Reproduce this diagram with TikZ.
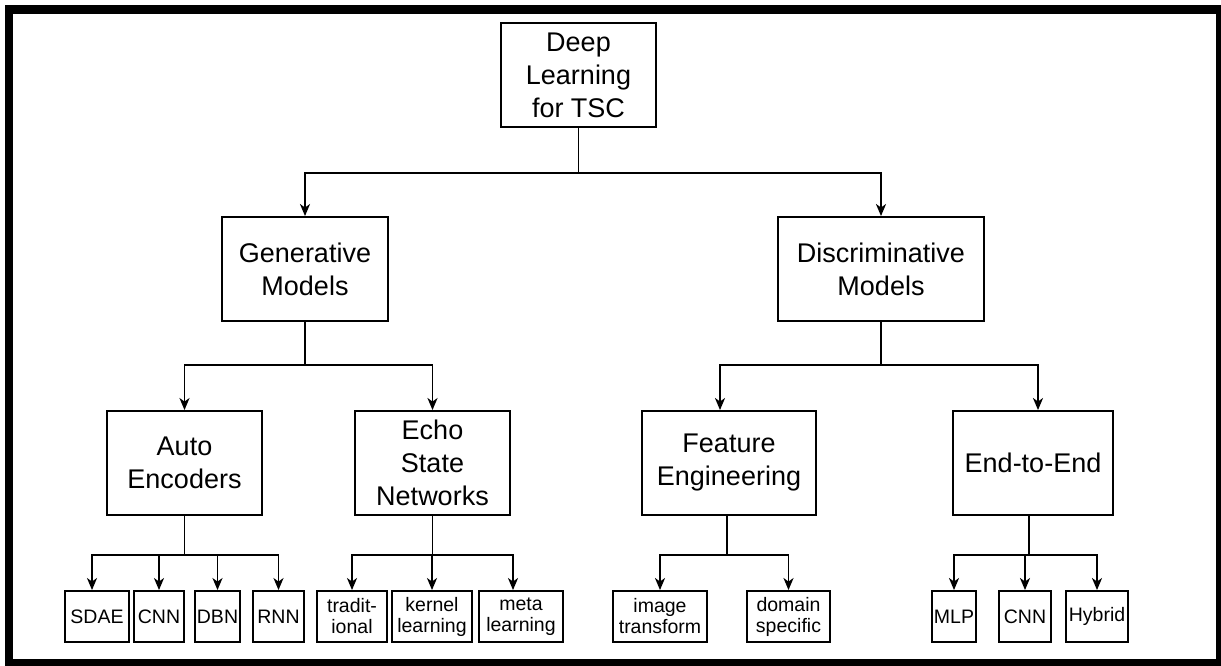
\documentclass[tikz,border=0pt]{standalone}
\usepackage{fontspec}
\setmainfont{Liberation Sans}
\usetikzlibrary{arrows.meta}

\begin{document}
\begin{tikzpicture}[x=1pt, y=-1pt, line width=1.9pt,
		box/.style={rectangle,draw,align=center,inner sep=2pt,minimum height=104pt,font=\fontsize{27}{33}\selectfont},
		leaf/.style={rectangle,draw,align=center,inner sep=2pt,minimum height=51pt,font=\fontsize{19.5}{21}\selectfont},
		>={Stealth[length=12pt,width=10pt,inset=3.5pt]}]
		\useasboundingbox (0,0) rectangle (1221,666);
		% frame
		\fill[black] (5,5) rectangle (1221,666);
		\fill[white] (13,14) rectangle (1216,659);

		\node[box,minimum width=155pt] (root) at (578.5,75) {Deep\\Learning\\for TSC};

		\node[box,minimum width=166pt] (gen) at (305,269) {Generative\\Models};
		\node[box,minimum width=206pt] (disc) at (881,269) {Discriminative\\Models};

		\node[box,minimum width=155pt] (auto) at (184.5,463) {Auto\\Encoders};
		\node[box,minimum width=155pt] (echo) at (432.5,463) {Echo\\State\\Networks};
		\node[box,minimum width=174pt] (feat) at (729,463) {Feature\\Engineering};
		\node[box,minimum width=160pt] (e2e) at (1033,463) {End-to-End};

		\node[leaf,minimum width=64pt] (sdae) at (97,616.5) {SDAE};
		\node[leaf,minimum width=50pt] (cnnA) at (159,616.5) {CNN};
		\node[leaf,minimum width=45pt] (dbn) at (217.5,616.5) {DBN};
		\node[leaf,minimum width=51pt] (rnn) at (278.5,616.5) {RNN};

		\node[leaf,minimum width=70pt] (trad) at (352,616.5) {tradit-\\ional};
		\node[leaf,minimum width=80pt] (kern) at (432,616.5) {kernel\\learning};
		\node[leaf,minimum width=84pt] (meta) at (521,616.5) {meta\\learning};

		\node[leaf,minimum width=94pt] (img) at (660,616.5) {image\\transform};
		\node[leaf,minimum width=83pt] (dom) at (788.5,616.5) {domain\\specific};

		\node[leaf,minimum width=40pt] (mlp) at (954,616.5) {MLP};
		\node[leaf,minimum width=52pt] (cnnB) at (1025,616.5) {CNN};
		\node[leaf,minimum width=62pt] (hyb) at (1097,616.5) {Hybrid};

		% first level
		\draw (root.south) -- ++(0,45) coordinate (jroot);
		\draw[->] (jroot) -| (gen.north);
		\draw[->] (jroot) -| (disc.north);

		% second level
		\draw (gen.south) -- ++(0,43) coordinate (jgen);
		\draw[->] (jgen) -| (auto.north);
		\draw[->] (jgen) -| (echo.north);
		\draw (disc.south) -- ++(0,43) coordinate (jdisc);
		\draw[->] (jdisc) -| ([xshift=-9pt]feat.north);
		\draw[->] (jdisc) -| ([xshift=5pt]e2e.north);

		% leaves
		\draw (auto.south) -- ++(0,39) coordinate (jauto);
		\draw[->] (jauto) -| ([xshift=-5pt]sdae.north);
		\foreach \n in {cnnA,dbn,rnn}
			\draw[->] (jauto) -| (\n.north);
		\draw (echo.south) -- ++(0,39) coordinate (jecho);
		\draw[->] (jecho) -| (trad.north);
		\draw[->] (jecho) -| (kern.north);
		\draw[->] (jecho) -| ([xshift=-8pt]meta.north);
		\draw ([xshift=-2pt]feat.south) -- ++(0,39) coordinate (jfeat);
		\foreach \n in {img,dom}
			\draw[->] (jfeat) -| (\n.north);
		\draw ([xshift=-4pt]e2e.south) -- ++(0,39) coordinate (je2e);
		\foreach \n in {mlp,cnnB,hyb}
			\draw[->] (je2e) -| (\n.north);
\end{tikzpicture}
\end{document}
